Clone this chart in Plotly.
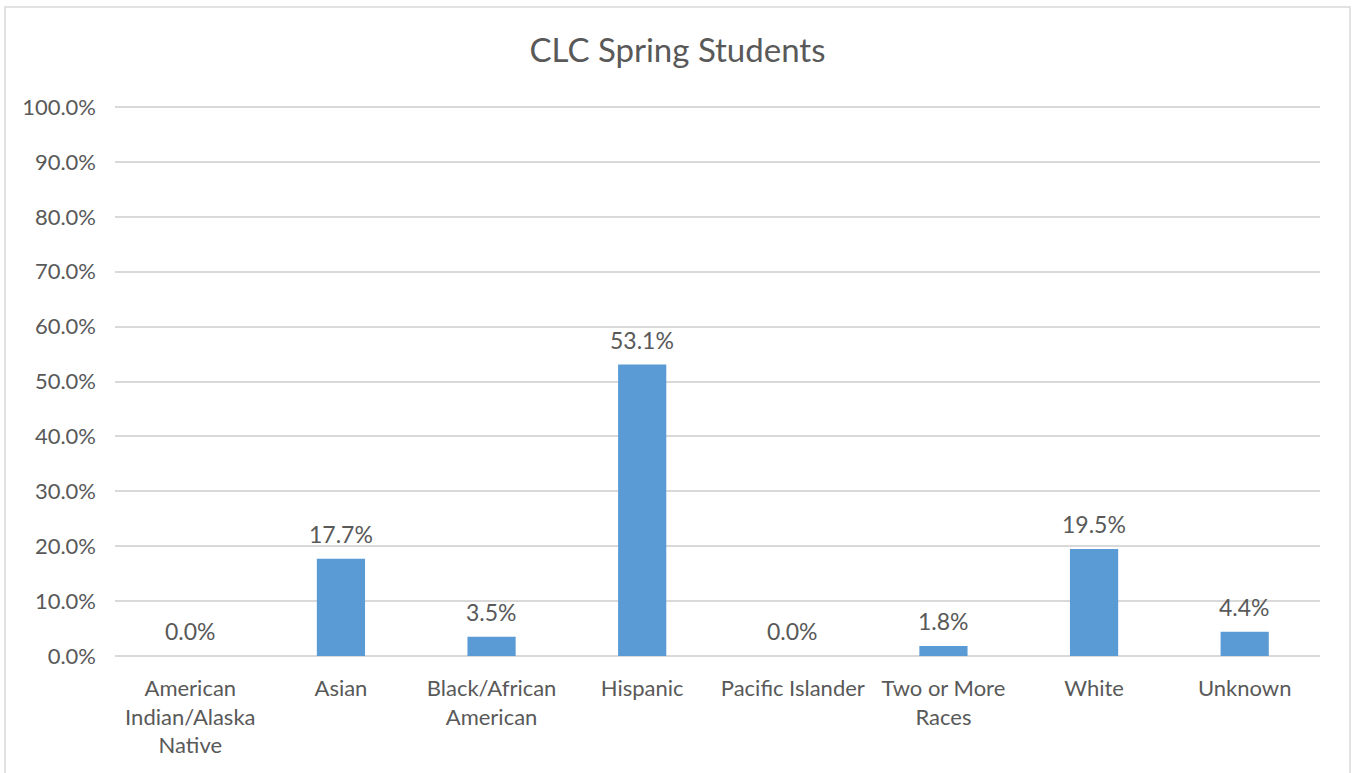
import plotly.graph_objects as go

categories = [
    "American<br>Indian/Alaska<br>Native",
    "Asian",
    "Black/African<br>American",
    "Hispanic",
    "Pacific Islander",
    "Two or More<br>Races",
    "White",
    "Unknown",
]
shares = [0.0, 17.7, 3.5, 53.1, 0.0, 1.8, 19.5, 4.4]
y_ticks = [0, 10, 20, 30, 40, 50, 60, 70, 80, 90, 100]
y_tick_labels = [f"{v:.1f}%" for v in y_ticks]

W, H = 1355, 773
L, R, T, B = 115, 35, 106, 117
pw, ph = W - L - R, H - T - B

def px_x(x):
    return (x - L) / pw

def px_y(y):
    return (H - B - y) / ph

FONT = "Lato, Open Sans, sans-serif"
GREY = "#595959"

fig = go.Figure(
    go.Bar(
        x=categories,
        y=shares,
        width=0.32,
        marker=dict(color="#5B9BD5", line=dict(width=0)),
        hoverinfo="skip",
    )
)

# value labels above each bar
for cat, val in zip(categories, shares):
    fig.add_annotation(
        x=cat,
        y=val,
        xref="x",
        yref="y",
        text=f"{val:.1f}%",
        showarrow=False,
        yanchor="middle",
        yshift=25,
        font=dict(family=FONT, size=23, color=GREY),
    )

fig.update_layout(
    width=W,
    height=H,
    margin=dict(l=L, r=R, t=T, b=B),
    paper_bgcolor="white",
    plot_bgcolor="white",
    showlegend=False,
    title=dict(
        text="CLC Spring Students",
        x=0.5,
        xref="container",
        xanchor="center",
        y=1 - 50 / H,
        yref="container",
        yanchor="middle",
        font=dict(family=FONT, size=33, color=GREY),
    ),
    xaxis=dict(
        showgrid=False,
        showline=False,
        zeroline=False,
        ticks="",
        tickfont=dict(family=FONT, size=22, color=GREY),
        ticklabelstandoff=17,
        fixedrange=True,
    ),
    yaxis=dict(
        range=[0, 100.2],
        tickvals=y_ticks,
        ticktext=y_tick_labels,
        showgrid=True,
        gridcolor="#d9d9d9",
        gridwidth=1.5,
        zeroline=True,
        zerolinecolor="#d9d9d9",
        zerolinewidth=1.5,
        showline=False,
        ticks="",
        ticklabelstandoff=18,
        tickfont=dict(family=FONT, size=22, color=GREY),
        fixedrange=True,
    ),
    shapes=[
        dict(
            type="rect",
            xref="paper",
            yref="paper",
            x0=px_x(5),
            x1=px_x(1350),
            y0=px_y(780),
            y1=px_y(7),
            line=dict(color="#d9d9d9", width=1.5),
            fillcolor="rgba(0,0,0,0)",
            layer="below",
        )
    ],
)

fig.write_html("out.html")
